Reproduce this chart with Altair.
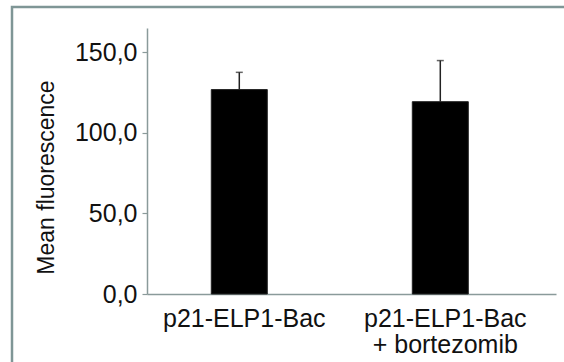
import altair as alt
import pandas as pd

categories = ["p21-ELP1-Bac", "p21-ELP1-Bac\n+ bortezomib"]
means = [126.8, 119.3]
errors = [10.7, 25.5]
y_ticks = [0, 50, 100, 150]

df = pd.DataFrame({"cat": categories, "mean": means, "err": errors})
df["upper"] = df["mean"] + df["err"]

AXIS_COLOR = "#8a9a9a"
FRAME_COLOR = "#7f9696"
FONT = "Liberation Sans"

x_enc = alt.X(
    "cat:N",
    sort=None,
    title=None,
    scale=alt.Scale(paddingInner=0.7214, paddingOuter=0.3781, align=0.423),
    axis=alt.Axis(
        labelAngle=0,
        labelExpr="split(datum.label, '\\n')",
        labelFont=FONT,
        labelFontSize=25,
        labelColor="#111111",
        labelLineHeight=26,
        labelPadding=12,
        labelOffset=5,
        ticks=False,
        domainColor=AXIS_COLOR,
        domainWidth=1.5,
    ),
)

y_scale = alt.Scale(domain=[0, 165], nice=False)
y_axis = alt.Axis(
    values=y_ticks,
    labelExpr="replace(format(datum.value, '.1f'), '.', ',')",
    labelFont=FONT,
    labelFontSize=25,
    labelColor="#111111",
    labelPadding=5,
    tickSize=5,
    tickColor=AXIS_COLOR,
    tickWidth=1.2,
    domainColor=AXIS_COLOR,
    domainWidth=1.5,
    grid=False,
    title="Mean fluorescence",
    titleFont=FONT,
    titleFontSize=23,
    titleFontWeight="normal",
    titleColor="#111111",
    titleX=-89,
    titleY=149,
)

base = alt.Chart(df)

bars = base.mark_bar(color="black", stroke="#222222", strokeWidth=1).encode(
    x=x_enc,
    y=alt.Y("mean:Q", scale=y_scale, axis=y_axis),
)

err_rule = base.mark_rule(color="#222222", strokeWidth=1.5).encode(
    x=alt.X("cat:N", sort=None),
    y="mean:Q",
    y2="upper:Q",
)

err_cap = base.mark_tick(color="#222222", thickness=1.5, size=7, orient="horizontal").encode(
    x=alt.X("cat:N", sort=None),
    y="upper:Q",
)

frame = alt.Chart(alt.Data(values=[{"a": 1}])).mark_rect(
    fill="transparent", stroke=FRAME_COLOR, strokeWidth=2.5, clip=False
).encode(
    x=alt.value(-135),
    x2=alt.value(430),
    y=alt.value(-21),
    y2=alt.value(350),
)

chart = (
    alt.layer(frame, bars, err_rule, err_cap)
    .properties(
        width=409,
        height=266,
        autosize=alt.AutoSizeParams(type="none"),
        padding={"left": 147, "top": 28, "right": 8, "bottom": 68},
        background="white",
    )
    .configure_view(stroke=None)
)

chart.save("out.html", embed_options={"renderer": "svg", "actions": False})
